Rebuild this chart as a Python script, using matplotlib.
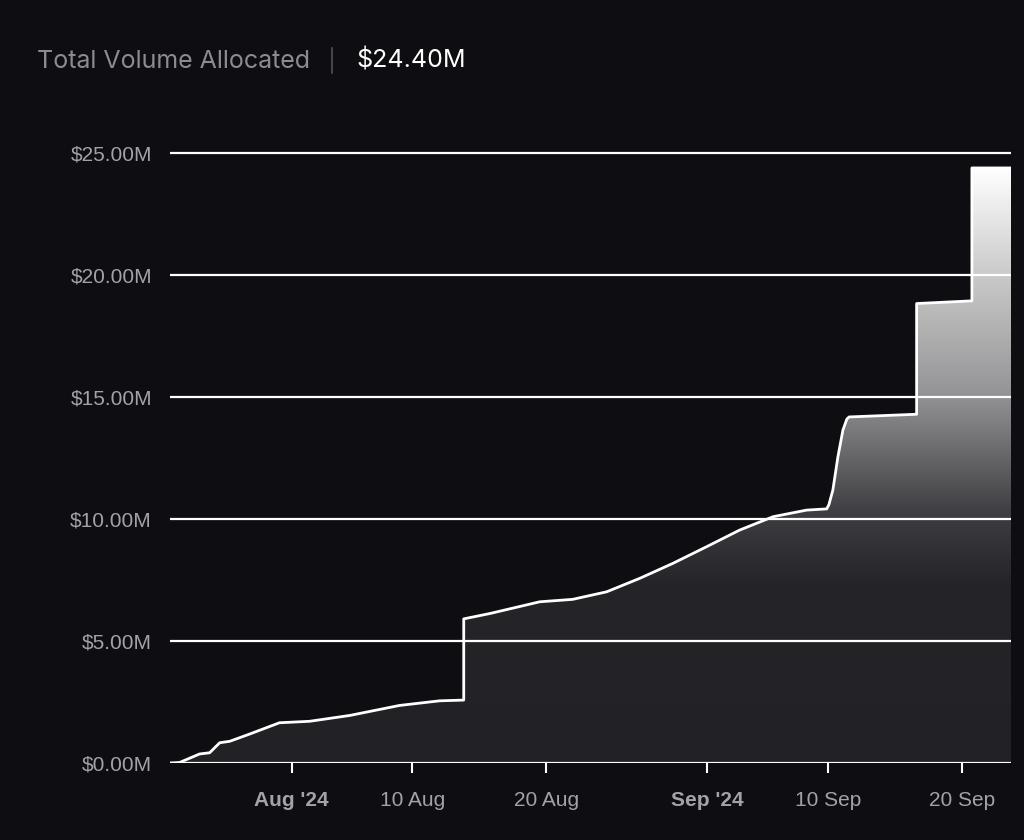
import numpy as np
import pandas as pd
import matplotlib
matplotlib.use("Agg")
import matplotlib.pyplot as plt
import matplotlib.dates as mdates
from matplotlib.colors import LinearSegmentedColormap

# cumulative allocated volume (USD millions)
dates = [
    "2024-07-22 22:00", "2024-07-23 15:00", "2024-07-25 03:00", "2024-07-25 21:00",
    "2024-07-26 15:00", "2024-07-27 09:00", "2024-07-28 21:00", "2024-07-31 02:00",
    "2024-08-02 08:00", "2024-08-05 08:00", "2024-08-09 01:00", "2024-08-12 01:00",
    "2024-08-13 20:00", "2024-08-13 20:00", "2024-08-15 19:00", "2024-08-19 12:00",
    "2024-08-21 23:00", "2024-08-24 12:00", "2024-08-26 23:00", "2024-08-29 10:00",
    "2024-08-31 23:00", "2024-09-03 10:00", "2024-09-05 22:00", "2024-09-08 10:00",
    "2024-09-09 22:00", "2024-09-10 02:00", "2024-09-10 09:00", "2024-09-10 18:00",
    "2024-09-11 03:00", "2024-09-11 10:00", "2024-09-11 14:00", "2024-09-16 15:00",
    "2024-09-16 15:00", "2024-09-20 18:00", "2024-09-20 18:00", "2024-09-23 16:00",
]
volume_m = [
    0.0, 0.02, 0.37, 0.42,
    0.83, 0.89, 1.19, 1.65,
    1.71, 1.95, 2.36, 2.55,
    2.58, 5.91, 6.13, 6.61,
    6.71, 7.02, 7.57, 8.18,
    8.87, 9.55, 10.10, 10.37,
    10.42, 10.60, 11.19, 12.55,
    13.65, 14.10, 14.19, 14.30,
    18.84, 18.95, 24.40, 24.40,
]
total_label = "$24.40M"

x = mdates.date2num(pd.to_datetime(dates))
y = np.array(volume_m) * 1e6

bg = "#0e0d12"
fig = plt.figure(figsize=(10.24, 8.4), dpi=100, facecolor=bg)
ax = fig.add_axes([170 / 1024, 1 - 763 / 840, (1011 - 170) / 1024, 617 / 840])
ax.set_facecolor(bg)

# gradient fill under the curve
poly = ax.fill_between(x, 0, y, color="none", lw=0)
cmap = LinearSegmentedColormap.from_list(
    "vol", [(0, "#222226"), (0.30, "#252529"), (0.42, "#3e3e42"),
            (0.62, "#949496"), (0.82, "#cacaca"), (1, "#ffffff")])
grad = np.linspace(0, 1, 256).reshape(-1, 1)
img = ax.imshow(grad, cmap=cmap, origin="lower", aspect="auto",
                extent=[x[0], x[-1], 0, y.max()], zorder=1)
img.set_clip_path(poly.get_paths()[0], transform=ax.transData)

ax.plot(x, y, color="white", lw=2, zorder=4, solid_joinstyle="round")

yticks = np.arange(0, 26e6, 5e6)
for v in yticks:
    ax.axhline(v, color="white", lw=1.6, zorder=3)

ax.set_xlim(x[0], x[-1])
ax.set_ylim(0, 25.3e6)
ax.set_yticks(yticks)
ax.set_yticklabels([f"${v / 1e6:.2f}M" for v in yticks])

xt = pd.to_datetime(["2024-08-01", "2024-08-10", "2024-08-20",
                     "2024-09-01", "2024-09-10", "2024-09-20"])
xt_labels = ["Aug '24", "10 Aug", "20 Aug", "Sep '24", "10 Sep", "20 Sep"]
ax.set_xticks(mdates.date2num(xt))
ax.set_xticklabels(xt_labels)
for lab in ax.get_xticklabels():
    if "'" in lab.get_text():
        lab.set_fontweight("bold")

for s in ax.spines.values():
    s.set_visible(False)
ax.tick_params(axis="y", length=0, pad=13, labelcolor="#a3a3a7", labelsize=15)
ax.tick_params(axis="x", length=7, width=1.5, color="white", pad=13,
               labelcolor="#a3a3a7", labelsize=15)
for lab in ax.get_xticklabels() + ax.get_yticklabels():
    lab.set_family(["Liberation Sans", "DejaVu Sans"])

fig.text(37 / 1024, 1 - 61 / 840, "Total Volume Allocated", color="#8b8b90",
         fontsize=18, family="Inter", va="center", ha="left")
fig.add_artist(plt.Line2D([332 / 1024, 332 / 1024], [1 - 48 / 840, 1 - 73 / 840],
                          color="#505055", lw=1.2))
fig.text(356 / 1024, 1 - 61 / 840, total_label, color="white",
         fontsize=18, family="Inter", va="center", ha="left")

fig.savefig("out.png", dpi=100, facecolor=bg)
